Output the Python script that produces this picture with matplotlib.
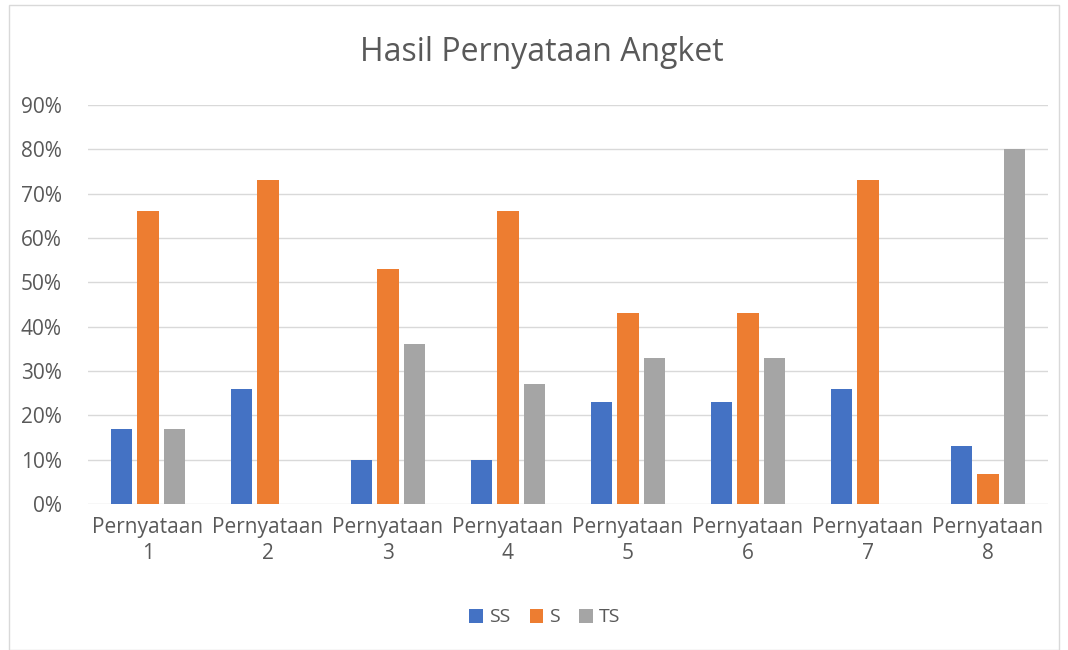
import matplotlib.pyplot as plt
import numpy as np

categories = ["Pernyataan\n1", "Pernyataan\n2", "Pernyataan\n3", "Pernyataan\n4",
              "Pernyataan\n5", "Pernyataan\n6", "Pernyataan\n7", "Pernyataan\n8"]
ss = [17, 26, 10, 10, 23, 23, 26, 13]
s = [66, 73, 53, 66, 43, 43, 73, 6.7]
ts = [17, 0, 36, 27, 33, 33, 0, 80]
yticks = [0, 10, 20, 30, 40, 50, 60, 70, 80, 90]

plt.rcParams['font.family'] = ['Open Sans', 'DejaVu Sans']
txt = '#595959'

fig = plt.figure(figsize=(10.68, 6.5), dpi=100)
ax = fig.add_axes([0.0824, 0.2246, 0.8988, 0.6138])

# chart border
fig.patches.append(plt.Rectangle((0.008, 0.0), 0.984, 0.992, transform=fig.transFigure,
                                 fill=False, edgecolor='#d9d9d9', linewidth=1))

x = np.arange(len(categories))
w = 0.18
step = 0.22
ax.bar(x - step, ss, w, color='#4472c4', label='SS', zorder=3)
ax.bar(x, s, w, color='#ed7d31', label='S', zorder=3)
ax.bar(x + step, ts, w, color='#a5a5a5', label='TS', zorder=3)

ax.set_xlim(-0.5, len(categories) - 0.5)
ax.set_ylim(0, 90)
ax.set_yticks(yticks)
ax.set_yticklabels([f"{v}%" for v in yticks])
ax.set_xticks(x)
ax.set_xticklabels(categories, linespacing=1.35)
ax.grid(axis='y', color='#d9d9d9', linewidth=1, zorder=0)
for sp in ax.spines.values():
    sp.set_visible(False)
ax.tick_params(length=0, labelsize=15, colors=txt)
ax.tick_params(axis='x', pad=9)
ax.tick_params(axis='y', pad=19)

fig.suptitle("Hasil Pernyataan Angket", x=0.507, y=0.945, fontsize=23, color=txt)
fig.legend(loc='center', bbox_to_anchor=(0.51, 0.05), ncol=3, frameon=False,
           fontsize=14, labelcolor=txt, handlelength=0.7, handleheight=0.7,
           handletextpad=0.3, columnspacing=1.0)

fig.savefig('out.png', dpi=100)
